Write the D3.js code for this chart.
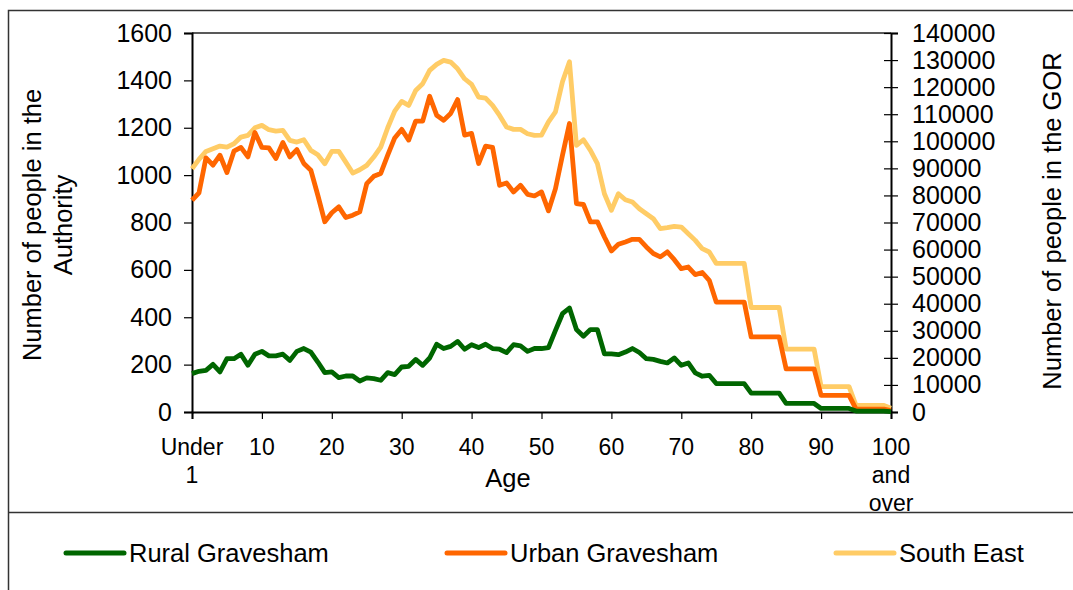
<!DOCTYPE html>
<html>
<head>
<meta charset="utf-8">
<style>
    body {
        margin: 0;
        background: #fff;
        font-family: "Liberation Sans", Arial, sans-serif;
    }
    svg {
        display: block;
    }
    .tick-label {
        font-size: 25px;
        fill: #000;
    }
    .x-label {
        font-size: 23px;
    }
    .axis-title {
        font-size: 25.5px;
        text-anchor: middle;
    }
    .legend-label {
        font-size: 25.5px;
    }
</style>
</head>
<body>
<script src="https://cdn.jsdelivr.net/npm/d3@7"></script>
<script>

    // ages 0 (under 1) .. 100 (100 and over)
    var ages = d3.range(0, 101);

    var rural = [
        162, 172, 176, 201, 169, 225, 225, 244, 197, 244,
        256, 237, 237, 244, 218, 256, 268, 253, 211, 166,
        169, 145, 152, 152, 131, 144, 141, 134, 166, 158,
        190, 193, 222, 197, 228, 286, 268, 277, 298, 265,
        284, 272, 286, 268, 265, 251, 284, 279, 256, 268,
        268, 272, 345, 415, 439, 348, 320, 348, 348, 246,
        245, 242, 253, 268, 251, 225, 222, 214, 207, 228,
        197, 207, 165, 151, 155, 120, 120, 120, 120, 120,
        80, 80, 80, 80, 80, 36, 36, 36, 36, 36,
        15, 15, 15, 15, 15, 4, 4, 4, 4, 4,
        2
    ];

    var urban = [
        894, 925, 1073, 1042, 1084, 1011, 1101, 1117, 1077, 1180,
        1117, 1115, 1070, 1138, 1077, 1108, 1049, 1021, 915, 803,
        841, 866, 821, 831, 845, 964, 995, 1007, 1084, 1157,
        1193, 1148, 1228, 1228, 1333, 1253, 1232, 1260, 1319, 1169,
        1176, 1049, 1122, 1117, 957, 967, 929, 957, 919, 912,
        929, 849, 943, 1084, 1218, 880, 876, 803, 803, 739,
        680, 708, 718, 729, 729, 697, 669, 655, 676, 643,
        605, 612, 580, 589, 556, 464, 464, 464, 464, 464,
        317, 317, 317, 317, 317, 182, 182, 182, 182, 182,
        70, 70, 70, 70, 70, 12, 12, 12, 12, 12,
        6
    ];

    var southEast = [
        89860, 93310, 96260, 97250, 98230, 97860, 99100, 101560, 102170, 105000,
        105870, 104270, 103770, 104020, 100330, 99710, 100570, 96630, 95030, 91710,
        96260, 96260, 92320, 88260, 89490, 91100, 94170, 97860, 105000, 111160,
        114730, 113250, 118790, 121250, 126180, 128390, 129870, 129250, 126790, 123100,
        121010, 116330, 115960, 113250, 109560, 105250, 104390, 104390, 102790, 102170,
        102300, 107200, 110900, 122000, 129400, 98480, 100570, 96630, 91710, 80630,
        74480, 80630, 78410, 77550, 75090, 73240, 71400, 67710, 68070, 68570,
        68320, 65860, 63400, 60320, 59090, 54900, 54900, 54900, 54900, 54900,
        38600, 38600, 38600, 38600, 38600, 23200, 23200, 23200, 23200, 23200,
        9400, 9400, 9400, 9400, 9400, 2400, 2400, 2400, 2400, 2400,
        1400
    ];

    var xTicks = [0, 10, 20, 30, 40, 50, 60, 70, 80, 90, 100];
    var xTickLabels = [["Under", "1"], ["10"], ["20"], ["30"], ["40"], ["50"],
                       ["60"], ["70"], ["80"], ["90"], ["100", "and", "over"]];
    var leftTicks = [0, 200, 400, 600, 800, 1000, 1200, 1400, 1600];
    var rightTicks = d3.range(0, 140001, 10000);

    var seriesNames = ["Rural Gravesham", "Urban Gravesham", "South East"];
    var seriesColors = ["#006600", "#ff6600", "#ffcc66"];

    var width = 1073,
        height = 590,
        plotLeft = 192,
        plotRight = 891,
        plotTop = 33,
        plotBottom = 412;

    var x = d3.scaleLinear().domain([0, 100]).range([plotLeft, plotRight]);
    var yLeft = d3.scaleLinear().domain([0, 1600]).range([plotBottom, plotTop]);
    var yRight = d3.scaleLinear().domain([0, 140000]).range([plotBottom, plotTop]);

    var svg = d3.select("body").append("svg")
        .attr("width", width)
        .attr("height", height);

    // outer chart border and legend separator
    svg.append("rect")
        .attr("x", 8.5).attr("y", 10.5)
        .attr("width", 1100).attr("height", 600)
        .attr("fill", "none")
        .attr("stroke", "#333")
        .attr("stroke-width", 1.5);

    svg.append("line")
        .attr("x1", 8).attr("x2", width)
        .attr("y1", 512.5).attr("y2", 512.5)
        .attr("stroke", "#333")
        .attr("stroke-width", 1.5);

    // plot top border
    svg.append("line")
        .attr("x1", plotLeft).attr("x2", plotRight)
        .attr("y1", plotTop).attr("y2", plotTop)
        .attr("stroke", "#222")
        .attr("stroke-width", 1.5);

    // left axis
    var leftAxis = svg.append("g")
        .attr("transform", "translate(" + plotLeft + ",0)")
        .call(d3.axisLeft(yLeft).tickValues(leftTicks).tickSize(8).tickPadding(12).tickFormat(d3.format("d")));

    // right axis (ticks cross the line)
    var rightAxis = svg.append("g")
        .attr("transform", "translate(" + plotRight + ",0)")
        .call(d3.axisRight(yRight).tickValues(rightTicks).tickSize(7).tickPadding(14).tickFormat(d3.format("d")));
    rightAxis.selectAll(".tick line").attr("x1", -7);

    // bottom axis
    var bottomAxis = svg.append("g")
        .attr("transform", "translate(0," + plotBottom + ")")
        .call(d3.axisBottom(x).tickValues(xTicks).tickSize(7).tickFormat(""));

    [leftAxis, rightAxis, bottomAxis].forEach(function(g) {
        g.select(".domain").attr("stroke", "#000").attr("stroke-width", 2);
        g.selectAll(".tick line").attr("stroke", "#000").attr("stroke-width", 1.2);
        g.selectAll(".tick text").attr("class", "tick-label").attr("font-family", null).attr("font-size", null);
    });

    // multi-line x tick labels
    var xLabelGroup = svg.append("g");
    xTicks.forEach(function(t, i) {
        var txt = xLabelGroup.append("text")
            .attr("class", "tick-label x-label")
            .attr("text-anchor", "middle")
            .attr("x", x(t))
            .attr("y", 455);
        xTickLabels[i].forEach(function(line, j) {
            txt.append("tspan")
                .attr("x", x(t))
                .attr("dy", j === 0 ? 0 : 28)
                .text(line);
        });
    });

    // axis titles
    svg.append("text")
        .attr("class", "axis-title")
        .attr("x", 508).attr("y", 487)
        .text("Age");

    var leftTitle = svg.append("text")
        .attr("class", "axis-title")
        .attr("transform", "translate(41,225) rotate(-90)");
    leftTitle.append("tspan").attr("x", 0).attr("dy", 0).text("Number of people in the");
    leftTitle.append("tspan").attr("x", 0).attr("dy", 31).text("Authority");

    svg.append("text")
        .attr("class", "axis-title")
        .attr("transform", "translate(1061,221) rotate(-90)")
        .text("Number of people in the GOR");

    // lines
    var lineLeft = d3.line()
        .x(function(d, i) { return x(ages[i]); })
        .y(function(d) { return yLeft(d); });
    var lineRight = d3.line()
        .x(function(d, i) { return x(ages[i]); })
        .y(function(d) { return yRight(d); });

    var seriesList = [
        {values: rural, line: lineLeft},
        {values: urban, line: lineLeft},
        {values: southEast, line: lineRight}
    ];

    // draw South East first so the authority lines sit on top
    [2, 1, 0].forEach(function(k) {
        svg.append("path")
            .attr("d", seriesList[k].line(seriesList[k].values))
            .attr("fill", "none")
            .attr("stroke", seriesColors[k])
            .attr("stroke-width", 4.8)
            .attr("stroke-linejoin", "round");
    });

    // legend
    var legendX = [66, 447, 836];
    var legend = svg.append("g");
    seriesNames.forEach(function(name, k) {
        legend.append("line")
            .attr("x1", legendX[k]).attr("x2", legendX[k] + 58)
            .attr("y1", 553).attr("y2", 553)
            .attr("stroke", seriesColors[k])
            .attr("stroke-width", 5)
            .attr("stroke-linecap", "round");
        legend.append("text")
            .attr("class", "legend-label")
            .attr("x", legendX[k] + 63)
            .attr("y", 562)
            .text(name);
    });
</script>
</body>
</html>
